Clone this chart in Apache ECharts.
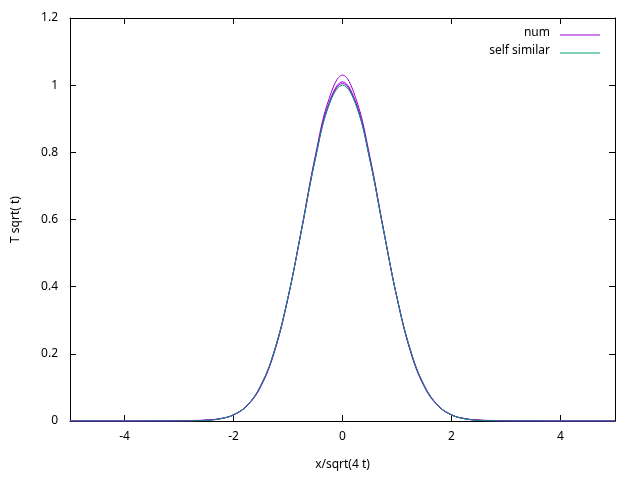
<!DOCTYPE html>
<html>
<head>
<meta charset="utf-8">
<script src="https://cdn.jsdelivr.net/npm/echarts@6/dist/echarts.min.js"></script>
<style>html,body{margin:0;padding:0;background:#fff}#c{width:640px;height:480px}</style>
</head>
<body>
<div id="c"></div>
<script>
// Sample positions (x/sqrt(4t)) and curve heights
const xs = [-5, -4, -3.5, -3, -2.75, -2.5, -2.25, -2, -1.75, -1.5, -1.25, -1, -0.75, -0.5, -0.25, 0,
            0.25, 0.5, 0.75, 1, 1.25, 1.5, 1.75, 2, 2.25, 2.5, 2.75, 3, 3.5, 4, 5];
const num1 = [0, 0, 0.0002, 0.0008, 0.0015, 0.003, 0.007, 0.018, 0.045, 0.102, 0.205, 0.366, 0.573, 0.789, 0.958, 1.03,
              0.958, 0.789, 0.573, 0.366, 0.205, 0.102, 0.045, 0.018, 0.007, 0.003, 0.0015, 0.0008, 0.0002, 0, 0];
const num2 = [0, 0, 0.0001, 0.0004, 0.001, 0.0025, 0.0068, 0.0185, 0.0466, 0.1048, 0.208, 0.367, 0.571, 0.783, 0.946, 1.01,
              0.946, 0.783, 0.571, 0.367, 0.208, 0.1048, 0.0466, 0.0185, 0.0068, 0.0025, 0.001, 0.0004, 0.0001, 0, 0];
const num3 = [0, 0, 0, 0.0002, 0.0007, 0.0021, 0.0065, 0.0184, 0.0467, 0.1052, 0.2092, 0.368, 0.570, 0.780, 0.942, 1.005,
              0.942, 0.780, 0.570, 0.368, 0.2092, 0.1052, 0.0467, 0.0184, 0.0065, 0.0021, 0.0007, 0.0002, 0, 0, 0];
const selfSimilar = [0, 0, 0, 0.0001, 0.0005, 0.0019, 0.0063, 0.0183, 0.0468, 0.1054, 0.2096, 0.3679, 0.5698, 0.7788, 0.9394, 1,
                     0.9394, 0.7788, 0.5698, 0.3679, 0.2096, 0.1054, 0.0468, 0.0183, 0.0063, 0.0019, 0.0005, 0.0001, 0, 0, 0];
const xTicks = [-4, -2, 0, 2, 4];

const NUM = '#9400d3';
const SELF = '#009e73';
const FONT = 'Noto Sans';

const pairs = ys => xs.map((x, i) => [x, ys[i]]);
const line = (name, ys, color, z) => ({
    name, type: 'line', data: pairs(ys), smooth: 0.4, symbol: 'none', z,
    lineStyle: { color, width: 1 }, itemStyle: { color }
});

const chart = echarts.init(document.getElementById('c'));
const axisLine = { onZero: false, lineStyle: { color: '#000', width: 1 } };
const tick = { inside: true, length: 6, lineStyle: { color: '#000' } };
const xCommon = {
    type: 'value', min: -5, max: 5, axisLine, splitLine: { show: false },
    axisTick: Object.assign({ customValues: xTicks }, tick)
};
const yCommon = {
    type: 'value', min: 0, max: 1.2, interval: 0.2, axisLine, splitLine: { show: false },
    axisTick: tick
};
chart.setOption({
    animation: false,
    backgroundColor: '#fff',
    grid: { left: 70, right: 25, top: 18, bottom: 59 },
    xAxis: [
        Object.assign({
            name: 'x/sqrt(4 t)', nameLocation: 'middle', nameGap: 38,
            nameTextStyle: { fontFamily: FONT, fontSize: 12, color: '#000' },
            axisLabel: { fontFamily: FONT, fontSize: 12, color: '#000', margin: 10, customValues: xTicks }
        }, xCommon),
        Object.assign({ position: 'top', axisLabel: { show: false } }, xCommon)
    ],
    yAxis: [
        Object.assign({
            name: 'T sqrt( t)', nameLocation: 'middle', nameGap: 48,
            nameTextStyle: { fontFamily: FONT, fontSize: 12, color: '#000' },
            axisLabel: { fontFamily: FONT, fontSize: 12, color: '#000', margin: 12,
                formatter: v => String(Math.round(v * 10) / 10) }
        }, yCommon),
        Object.assign({ position: 'right', axisLabel: { show: false } }, yCommon)
    ],
    series: [
        line('num', num1, NUM, 2),
        line('num', num2, NUM, 2),
        line('num', num3, NUM, 2),
        line('self similar', selfSimilar, SELF, 3)
    ],
    graphic: [
        { type: 'text', right: 90, top: 27, style: { text: 'num', fontFamily: FONT, fontSize: 12, fill: '#000', align: 'right' } },
        { type: 'line', shape: { x1: 560, y1: 35, x2: 600, y2: 35 }, style: { stroke: NUM, lineWidth: 1 } },
        { type: 'text', right: 90, top: 45, style: { text: 'self similar', fontFamily: FONT, fontSize: 12, fill: '#000', align: 'right' } },
        { type: 'line', shape: { x1: 560, y1: 53, x2: 600, y2: 53 }, style: { stroke: SELF, lineWidth: 1 } }
    ]
});
</script>
</body>
</html>
